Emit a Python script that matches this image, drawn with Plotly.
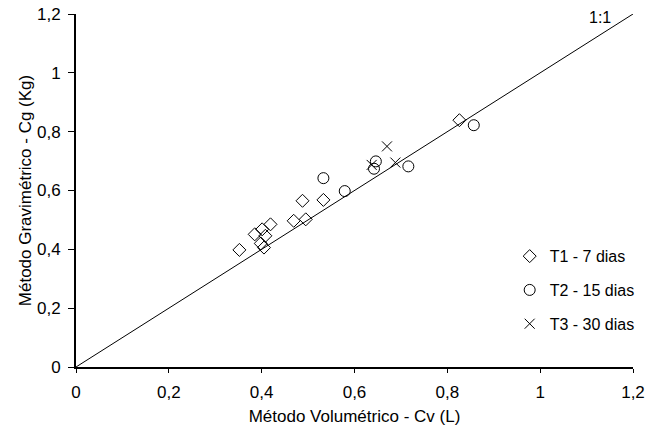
import plotly.graph_objects as go

# Volumetric (Cv, L) vs gravimetric (Cg, kg) measurements per treatment
t1_cv = [0.352, 0.385, 0.401, 0.398, 0.408, 0.405, 0.419, 0.469, 0.495, 0.488, 0.533, 0.826]
t1_cg = [0.398, 0.451, 0.468, 0.420, 0.446, 0.406, 0.485, 0.497, 0.502, 0.565, 0.568, 0.839]

t2_cv = [0.533, 0.579, 0.642, 0.646, 0.716, 0.857]
t2_cg = [0.642, 0.598, 0.674, 0.699, 0.682, 0.822]

t3_cv = [0.637, 0.670, 0.688]
t3_cg = [0.687, 0.750, 0.695]

ref_line = [0, 1.2]
tick_vals = [0, 0.2, 0.4, 0.6, 0.8, 1.0, 1.2]
tick_text = ["0", "0,2", "0,4", "0,6", "0,8", "1", "1,2"]

FONT = "Liberation Sans, Arial, sans-serif"

fig = go.Figure()

# 1:1 reference line
fig.add_trace(go.Scatter(
    x=ref_line, y=ref_line, mode="lines",
    line=dict(color="black", width=1), showlegend=False, hoverinfo="skip",
))

fig.add_trace(go.Scatter(
    x=t1_cv, y=t1_cg, mode="markers", name="T1 - 7 dias", legendgroup="t1",
    marker=dict(symbol="diamond-open", size=10, color="black", line=dict(width=1, color="black")),
))
fig.add_trace(go.Scatter(
    x=t2_cv, y=t2_cg, mode="markers", name="T2 - 15 dias", legendgroup="t2",
    marker=dict(symbol="circle-open", size=11, color="black", line=dict(width=1, color="black")),
))
fig.add_trace(go.Scatter(
    x=t3_cv, y=t3_cg, mode="markers", name="T3 - 30 dias", legendgroup="t3",
    marker=dict(symbol="x-thin-open", size=10, color="black", line=dict(width=1, color="black")),
))

axis_common = dict(
    range=[0, 1.2],
    tickvals=tick_vals,
    ticktext=tick_text,
    showgrid=False,
    zeroline=False,
    showline=True,
    linecolor="black",
    linewidth=2,
    ticks="outside",
    tickwidth=1,
    tickcolor="black",
    automargin=False,
    tickfont=dict(family=FONT, size=17, color="black"),
)

fig.update_xaxes(
    **axis_common,
    ticklen=4,
    ticklabelstandoff=5,
    title=dict(text="Método Volumétrico - Cv (L)", font=dict(family=FONT, size=17, color="black"), standoff=9),
)
fig.update_yaxes(
    **axis_common,
    ticklen=6,
    ticklabelstandoff=4,
    title=dict(text="Método Gravimétrico - Cg (Kg)", font=dict(family=FONT, size=17, color="black"), standoff=1),
)

fig.add_annotation(
    x=1.157, y=1.187, xref="x", yref="y", text="1:1", showarrow=False,
    xanchor="right", yanchor="middle", font=dict(family=FONT, size=16, color="black"),
)

fig.update_layout(
    width=652, height=429,
    margin=dict(l=76, r=15, t=14, b=62),
    paper_bgcolor="white", plot_bgcolor="white",
    font=dict(family=FONT, size=16, color="black"),
    separators=",.",
    legend=dict(
        x=1.012, y=0.362, xanchor="right", yanchor="top",
        bgcolor="rgba(0,0,0,0)", borderwidth=0,
        traceorder="grouped", tracegroupgap=10,
        font=dict(family=FONT, size=16, color="black"),
        itemwidth=30,
    ),
)

fig.write_html("out.html")
